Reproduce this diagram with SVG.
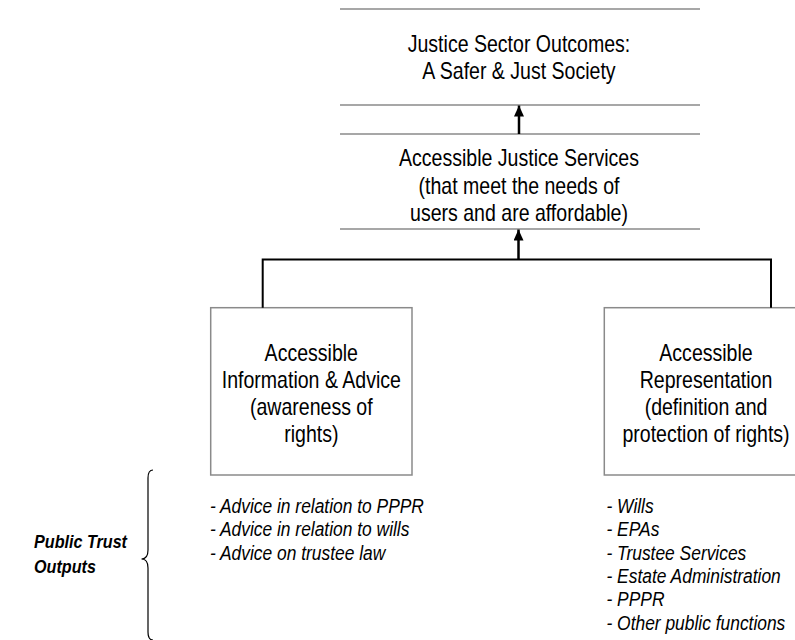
<svg xmlns="http://www.w3.org/2000/svg" width="795" height="640" viewBox="0 0 795 640">
<defs>
<style>
.box{fill:#fff;stroke:#8a8a8a;stroke-width:1.5}
.hl{stroke:#8a8a8a;stroke-width:1.5;fill:none}
.t{font-family:"Liberation Sans",Arial,sans-serif;font-size:23px;fill:#000;text-anchor:middle}
.li{font-family:"Liberation Sans",Arial,sans-serif;font-size:20px;font-style:italic;fill:#000}
.lb{font-family:"Liberation Sans",Arial,sans-serif;font-size:19px;font-style:italic;font-weight:bold;fill:#000}
.con{fill:none;stroke:#000;stroke-width:2}
.arr{stroke:#000;stroke-width:2.5}
</style>
<marker id="ah" viewBox="0 0 11 10" refX="11" refY="5" markerWidth="11" markerHeight="10" markerUnits="userSpaceOnUse" orient="auto">
<path d="M11,5 L0,0 L0,10 Z" fill="#000"/>
</marker>
</defs>
<rect width="795" height="640" fill="#fff"/>

<g id="outcomes">
<line class="hl" x1="340" y1="9" x2="700" y2="9"/>
<line class="hl" x1="340" y1="105" x2="700" y2="105"/>
<text class="t" transform="translate(519,52) scale(0.85,1)">Justice Sector Outcomes:</text>
<text class="t" transform="translate(519,79) scale(0.85,1)">A Safer &amp; Just Society</text>
</g>

<g id="services">
<line class="hl" x1="340" y1="134" x2="700" y2="134"/>
<line class="hl" x1="340" y1="229" x2="700" y2="229"/>
<text class="t" transform="translate(519,166) scale(0.85,1)">Accessible Justice Services</text>
<text class="t" transform="translate(519,193.5) scale(0.85,1)">(that meet the needs of</text>
<text class="t" transform="translate(519,221) scale(0.85,1)">users and are affordable)</text>
</g>

<g id="info-advice">
<rect class="box" x="210.7" y="307.7" width="201.3" height="167.3"/>
<text class="t" transform="translate(311.3,361) scale(0.85,1)">Accessible</text>
<text class="t" transform="translate(311.3,388) scale(0.85,1)">Information &amp; Advice</text>
<text class="t" transform="translate(311.3,415) scale(0.85,1)">(awareness of</text>
<text class="t" transform="translate(311.3,442) scale(0.85,1)">rights)</text>
</g>

<g id="representation">
<rect class="box" x="604.3" y="307.7" width="203" height="167.3"/>
<text class="t" transform="translate(706,361) scale(0.85,1)">Accessible</text>
<text class="t" transform="translate(706,388) scale(0.85,1)">Representation</text>
<text class="t" transform="translate(706,415) scale(0.85,1)">(definition and</text>
<text class="t" transform="translate(706,442) scale(0.85,1)">protection of rights)</text>
</g>

<g id="connectors">
<line class="arr" x1="519" y1="134" x2="519" y2="105.5" marker-end="url(#ah)"/>
<line class="arr" x1="518.5" y1="259.5" x2="518.5" y2="229.5" marker-end="url(#ah)"/>
<path class="con" d="M262.7,307.7 V259.5 H771 V307.7"/>
</g>

<g id="advice-outputs">
<text class="li" transform="translate(210,513) scale(0.87,1)">- Advice in relation to PPPR</text>
<text class="li" transform="translate(210,536.3) scale(0.87,1)">- Advice in relation to wills</text>
<text class="li" transform="translate(210,559.6) scale(0.87,1)">- Advice on trustee law</text>
</g>

<g id="representation-outputs">
<text class="li" transform="translate(606.5,513) scale(0.87,1)">- Wills</text>
<text class="li" transform="translate(606.5,536.3) scale(0.87,1)">- EPAs</text>
<text class="li" transform="translate(606.5,559.6) scale(0.87,1)">- Trustee Services</text>
<text class="li" transform="translate(606.5,582.9) scale(0.87,1)">- Estate Administration</text>
<text class="li" transform="translate(606.5,606.2) scale(0.87,1)">- PPPR</text>
<text class="li" transform="translate(606.5,629.5) scale(0.87,1)">- Other public functions</text>
</g>

<g id="public-trust-outputs">
<path d="M153,470 Q148,470 148,478 L148,550 Q148,559 141.5,559 Q148,559 148,568 L148,632 Q148,640 153,640" fill="none" stroke="#000" stroke-width="1.2"/>
<text class="lb" transform="translate(34,548) scale(0.85,1)">Public Trust</text>
<text class="lb" transform="translate(34,573) scale(0.85,1)">Outputs</text>
</g>
</svg>
